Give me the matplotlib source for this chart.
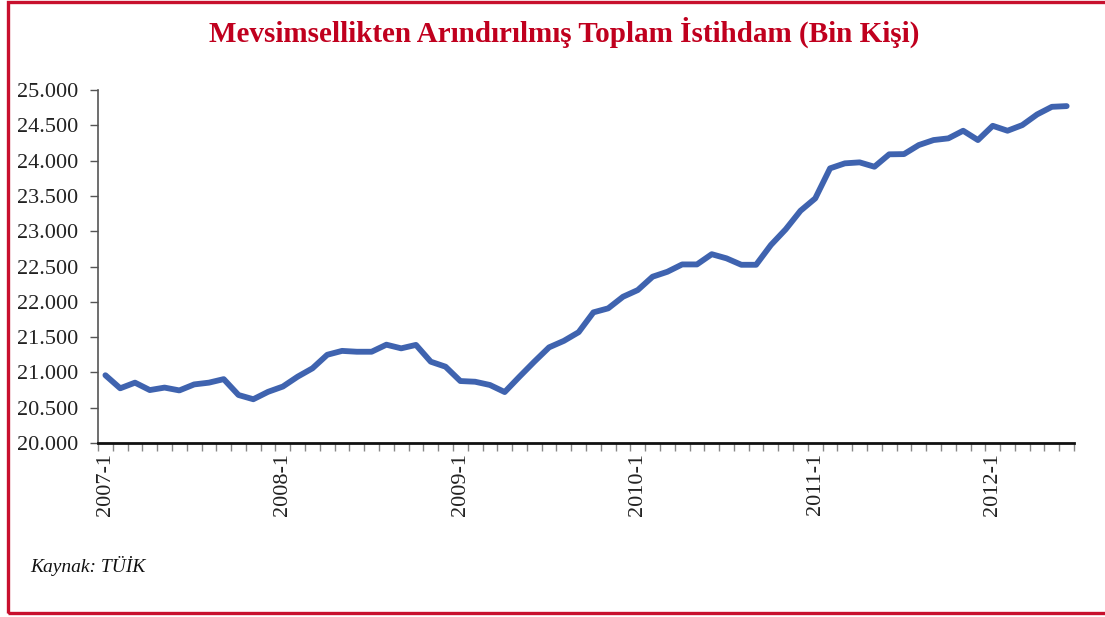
import matplotlib.pyplot as plt
from matplotlib.patches import Rectangle
from matplotlib.ticker import FuncFormatter, MultipleLocator

# Mevsimsellikten arindirilmis toplam istihdam (bin kisi), 2007-1 .. 2012-6
months = [f"{y}-{m}" for y in range(2007, 2013) for m in range(1, 13)][:66]
employment = [
    20960, 20775, 20855, 20750, 20785, 20745, 20830, 20855, 20905, 20680, 20620, 20725,
    20800, 20940, 21058, 21250, 21305, 21293, 21293, 21393, 21341, 21390, 21152, 21081,
    20878, 20868, 20822, 20722, 20940, 21152, 21355, 21447, 21570, 21851, 21908, 22072,
    22167, 22356, 22426, 22530, 22530, 22675, 22616, 22525, 22525, 22805, 23027, 23290,
    23466, 23891, 23962, 23976, 23914, 24090, 24093, 24221, 24292, 24316, 24424, 24292,
    24494, 24424, 24504, 24655, 24763, 24773,
]
label_months = ["2007-1", "2008-1", "2009-1", "2010-1", "2011-1", "2012-1"]

title = "Mevsimsellikten Arındırılmış Toplam İstihdam (Bin Kişi)"
source = "Kaynak: TÜİK"

plt.rcParams['font.family'] = ['Liberation Serif', 'DejaVu Serif']

fig = plt.figure(figsize=(11.05, 6.17), dpi=100)
ax = fig.add_axes([0.0887, 0.282, 0.972 - 0.0887, 0.854 - 0.282])

x = list(range(len(employment)))
ax.plot(x, employment, color='#3F63AF', linewidth=4.2, solid_capstyle='round', solid_joinstyle='round')

ax.set_xlim(-0.5, len(employment) - 0.5)
ax.set_ylim(20000, 25000)

# y axis
ax.yaxis.set_major_locator(MultipleLocator(500))
ax.yaxis.set_major_formatter(FuncFormatter(lambda v, p: f"{int(v):,}".replace(",", ".")))
ax.tick_params(axis='y', direction='out', length=6, width=1, color='#555555',
               labelsize=16, pad=8, labelcolor='#222222')

# x axis: labels at category centres, ticks at category boundaries
ax.set_xticks([months.index(m) for m in label_months])
ax.set_xticklabels(label_months, rotation=90)
ax.set_xticks([i - 0.5 for i in range(len(employment) + 1)], minor=True)
ax.tick_params(axis='x', which='major', length=0, labelsize=16, pad=7, labelcolor='#222222')
ax.tick_params(axis='x', which='minor', direction='out', length=6, width=1, color='#888888')

for s in ['top', 'right']:
    ax.spines[s].set_visible(False)
ax.spines['left'].set_color('#555555')
ax.spines['left'].set_linewidth(1.2)
ax.spines['bottom'].set_color('#111111')
ax.spines['bottom'].set_linewidth(2)

fig.text(0.511, 0.948, title, ha='center', va='center', fontsize=21,
         fontweight='bold', color='#C0001E')
fig.text(0.027, 0.083, source, ha='left', va='center', fontsize=14,
         style='italic', color='#111111')

fig.patches.append(Rectangle((0.0075, 0.0065), 1.2, 0.99, transform=fig.transFigure,
                             fill=False, edgecolor='#C8102E', linewidth=2.4))

fig.savefig('out.png', dpi=100)
